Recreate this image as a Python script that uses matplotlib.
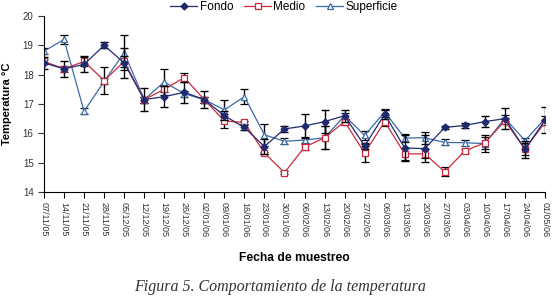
import numpy as np
import matplotlib
matplotlib.use("Agg")
import matplotlib.pyplot as plt
from matplotlib.lines import Line2D

plt.rcParams['font.family'] = ['Liberation Sans', 'DejaVu Sans']

fechas = ['07/11/05', '14/11/05', '21/11/05', '28/11/05', '05/12/05', '12/12/05',
          '19/12/05', '26/12/05', '02/01/06', '09/01/06', '16/01/06', '23/01/06',
          '30/01/06', '06/02/06', '13/02/06', '20/02/06', '27/02/06', '06/03/06',
          '13/03/06', '20/03/06', '27/03/06', '03/04/06', '10/04/06', '17/04/06',
          '24/04/06', '01/05/06']

fondo = [18.4, 18.2, 18.35, 19.0, 18.4, 17.15, 17.25, 17.4, 17.15, 16.6, 16.2, 15.55,
         16.15, 16.25, 16.4, 16.6, 15.57, 16.65, 15.5, 15.48, 16.2, 16.27, 16.4, 16.5,
         15.45, 16.45]
medio = [18.45, 18.2, 18.45, 17.8, 18.45, 17.15, 17.5, 17.9, 17.15, 16.42, 16.37, 15.33,
         14.66, 15.53, 15.85, 16.4, 15.33, 16.4, 15.3, 15.3, 14.69, 15.4, 15.68, 16.42,
         15.47, 16.37]
superficie = [18.8, 19.2, 16.75, 17.77, 18.75, 17.15, 17.75, 17.35, 17.15, 16.8, 17.25, 15.95,
              15.73, 15.77, 15.85, 16.6, 15.93, 16.73, 15.84, 15.85, 15.69, 15.68, 15.65, 16.52,
              15.75, 16.5]

err_fondo = [0.2, 0.28, 0.27, 0.1, 0.5, 0.4, 0.35, 0.35, 0.3, 0.15, 0.08, 0.25,
             0.1, 0.4, 0.4, 0.2, 0.1, 0.15, 0.45, 0.45, 0.05, 0.08, 0.2, 0.35,
             0.3, 0.45]
err_medio = [0.1, 0.1, 0.15, 0.45, 0.2, 0.1, 0.1, 0.15, 0.1, 0.25, 0.05, 0.05,
             0.05, 0.1, 0.4, 0.1, 0.3, 0.15, 0.2, 0.15, 0.15, 0.08, 0.2, 0.1,
             0.2, 0.1]
err_superficie = [0.1, 0.15, 0.1, 0.1, 0.6, 0.1, 0.45, 0.1, 0.1, 0.35, 0.25, 0.38,
                  0.1, 0.1, 0.4, 0.1, 0.15, 0.1, 0.15, 0.2, 0.1, 0.1, 0.3, 0.1,
                  0.1, 0.1]

x = np.arange(len(fechas))

fig = plt.figure(figsize=(5.53, 2.99), dpi=100)
ax = fig.add_axes([44/553, 1-192/299, (545-44)/553, (192-16)/299])

c_fondo = '#1f2a6e'
c_medio = '#cc2a3c'
c_sup = '#3a6aa8'

ax.errorbar(x, superficie, yerr=err_superficie, color=c_sup, ecolor='black', elinewidth=1,
            capsize=3, capthick=1, lw=0.9, marker='^', ms=4.5, mfc='white', mec=c_sup, mew=0.9,
            zorder=2)
ax.errorbar(x, medio, yerr=err_medio, color=c_medio, ecolor='black', elinewidth=1,
            capsize=3, capthick=1, lw=0.9, marker='s', ms=4, mfc='white', mec=c_medio, mew=0.9,
            zorder=3)
ax.errorbar(x, fondo, yerr=err_fondo, color=c_fondo, ecolor='black', elinewidth=1,
            capsize=3, capthick=1, lw=0.9, marker='D', ms=3.5, mfc=c_fondo, mec=c_fondo,
            zorder=4)

ax.set_xlim(0, len(fechas) - 1)
ax.set_ylim(14, 20)
ax.set_yticks(range(14, 21))
ax.set_xticks(x)
ax.set_xticklabels(fechas, rotation=270, fontsize=6.5, color='#333333')
ax.tick_params(axis='y', labelsize=7, colors='#333333', length=4, direction='out')
ax.tick_params(axis='x', length=4, direction='out', pad=3)
for s in ['top', 'right']:
    ax.spines[s].set_visible(False)
for s in ['left', 'bottom']:
    ax.spines[s].set_color('black')
    ax.spines[s].set_linewidth(0.8)

ax.set_ylabel('Temperatura °C', fontsize=8, fontweight='bold', labelpad=8)
fig.text(294/553, 1-258/299, 'Fecha de muestreo', fontsize=8.7, fontweight='bold',
         ha='center', va='center')
fig.text(280/553, 1-287/299, 'Figura 5. Comportamiento de la temperatura',
         fontsize=11.5, style='italic', family=['Liberation Serif', 'DejaVu Serif'],
         color='#333333', ha='center', va='center')

handles = [
    Line2D([], [], color=c_fondo, lw=0.9, marker='D', ms=3.5, mfc=c_fondo, mec=c_fondo),
    Line2D([], [], color=c_medio, lw=0.9, marker='s', ms=4, mfc='white', mec=c_medio, mew=0.9),
    Line2D([], [], color=c_sup, lw=0.9, marker='^', ms=4.5, mfc='white', mec=c_sup, mew=0.9),
]
fig.legend(handles, ['Fondo', 'Medio', 'Superficie'], loc='center',
           bbox_to_anchor=(284/553, 1-7/299), ncol=3, frameon=False, fontsize=8.5,
           handlelength=2.3, columnspacing=0.9, handletextpad=0.2, borderaxespad=0,
           borderpad=0)

fig.savefig('out.png', dpi=100)
